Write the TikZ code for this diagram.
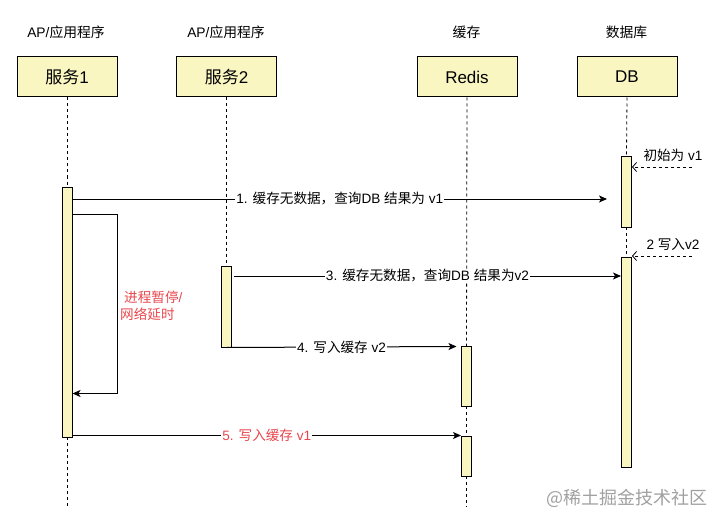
\documentclass[tikz,border=0pt]{standalone}
\usepackage{fontspec}
\setmainfont{Liberation Sans}
\newfontfamily\cjk{Noto Sans CJK SC}
\usetikzlibrary{arrows.meta}
\definecolor{actfill}{HTML}{FAF6C2}
\definecolor{redtxt}{HTML}{E8474D}
\definecolor{wmgray}{HTML}{A0A0A0}
\begin{document}
\begin{tikzpicture}[x=1pt,y=-1pt,
  hdr/.style={font=\fontsize{13.8}{16}\selectfont, inner sep=0pt},
  actor/.style={draw, fill=actfill, minimum width=100pt, minimum height=40pt, inner sep=0pt, line width=1pt, font=\fontsize{17}{20}\selectfont},
  bar/.style={draw, fill=actfill, minimum width=10pt, inner sep=0pt, line width=1pt},
  life/.style={dash pattern=on 3pt off 3pt, line width=0.8pt},
  msg/.style={line width=1pt, -{Stealth[length=8pt,width=7pt,inset=2pt]}},
  lbl/.style={fill=white, inner sep=1pt, font=\fontsize{13.6}{15}\selectfont},
  ret/.style={dash pattern=on 3pt off 3pt, line width=0.8pt, -{Straight Barb[length=4pt,width=9pt]}}]
\useasboundingbox (0,0) rectangle (723,524);

% headers
\node[hdr] (h1) at (66,32) {AP/{\cjk 应用程序}};
\node[hdr] (h2) at (226,32) {AP/{\cjk 应用程序}};
\node[hdr] (h3) at (466.5,32) {{\cjk 缓存}};
\node[hdr] (h4) at (626.5,32) {{\cjk 数据库}};

% actors
\node[actor] (s1) at (67,77) {{\cjk 服务}1};
\node[actor] (s2) at (226.5,77) {{\cjk 服务}2};
\node[actor] (rd) at (467,77) {Redis};
\node[actor] (db) at (627,77) {DB};

% lifeline ends
\coordinate (e1) at (67,507);
\coordinate (e3) at (466.5,507);

% bars (positions)
\coordinate (pb1) at (67,312);
\coordinate (pb2) at (226.5,306.5);
\coordinate (pr1) at (466.5,376);
\coordinate (pr2) at (466.5,456);
\coordinate (pd1) at (626.5,192);
\coordinate (pd2) at (626.5,362);

% lifelines
\draw[life] (s1.south) -- (pb1 |- 0,187);
\draw[life] (pb1 |- 0,437) -- (e1);
\draw[life] (s2.south) -- (pb2 |- 0,266);
\draw[life] (rd.south) -- (pr1 |- 0,346);
\draw[life] (pr1 |- 0,406) -- (pr2 |- 0,436);
\draw[life] (pr2 |- 0,476) -- (e3);
\draw[life] (db.south) -- (pd1 |- 0,157);
\draw[life] (pd1 |- 0,227) -- (pd2 |- 0,257);

% bars
\node[bar, minimum height=250pt] (b1) at (pb1) {};
\node[bar, minimum height=81pt] (b2) at (pb2) {};
\node[bar, minimum height=60pt] (r1) at (pr1) {};
\node[bar, minimum height=40pt] (r2) at (pr2) {};
\node[bar, minimum height=70pt] (d1) at (pd1) {};
\node[bar, minimum height=210pt] (d2) at (pd2) {};

% message 1
\coordinate (m1e) at (607,199);
\draw[msg] (b1.east |- m1e) -- node[lbl] {1. {\cjk 缓存无数据，查询}DB {\cjk 结果为} v1} (m1e);

% self message
\coordinate (sp1) at (117,214);
\coordinate (sp2) at (117,393.5);
\draw[msg] (b1.east |- sp1) -- (sp1) -- (sp2) -- (b1.east |- sp2);
\node[anchor=west, align=left, inner sep=0pt, text=redtxt, font=\fontsize{13.6}{17}\selectfont] (pause) at (120,306)
  {\hspace*{4pt}{\cjk 进程暂停}/\\{\cjk 网络延时}};

% returns to DB
\coordinate (i1) at (692,167);
\coordinate (i2) at (692,256);
\draw[ret] (i1) -- (d1.east |- i1);
\draw[ret] (i2) -- (d2.east |- i2);
\node[lbl] (l1) at (673,155) {{\cjk 初始为} v1};
\node[lbl] (l2) at (673,244) {2 {\cjk 写入}v2};

% message 3
\coordinate (m3s) at (234,276);
\draw[msg] (m3s) -- node[lbl] {3. {\cjk 缓存无数据，查询}DB {\cjk 结果为}v2} (d2.west |- m3s);

% message 4
\coordinate (m4e) at (456.5,346.5);
\draw[msg] (b2.south) -- node[lbl] {4. {\cjk 写入缓存} v2} (m4e);

% message 5
\draw[msg] (b1.east |- r2.north west) -- node[lbl, text=redtxt] {5. {\cjk 写入缓存} v1} (r2.north west);

% watermark
\node[anchor=west, inner sep=0pt, text=wmgray, font=\cjk\fontsize{18}{20}\selectfont] (wm) at (546,498) {@稀土掘金技术社区};
\end{tikzpicture}
\end{document}
